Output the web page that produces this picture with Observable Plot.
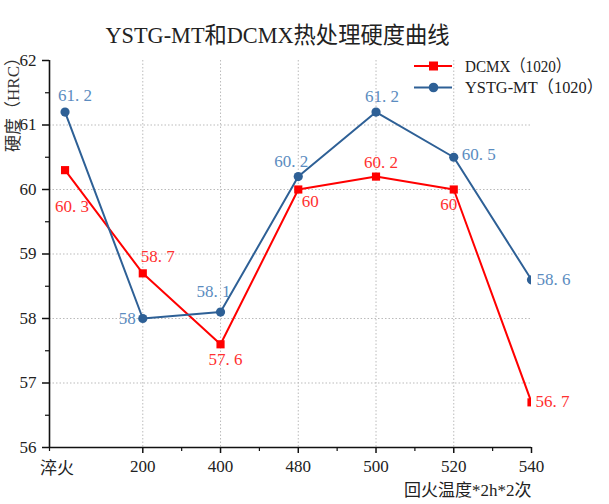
<!DOCTYPE html>
<html><head><meta charset="utf-8">
<script src="https://cdn.jsdelivr.net/npm/d3@7"></script>
<script src="https://cdn.jsdelivr.net/npm/@observablehq/plot@0.6"></script>
<style>
body{margin:0;background:#fff}
#wrap{position:relative;width:609px;height:504px}
#over{position:absolute;left:0;top:0;pointer-events:none}
</style></head>
<body><div id="wrap"></div>
<script>
const categories = ["淬火", "200", "400", "480", "500", "520", "540"];
const dcmx = [60.3, 58.7, 57.6, 60, 60.2, 60, 56.7];
const ystg = [61.2, 58, 58.1, 60.2, 61.2, 60.5, 58.6];
const seriesNames = ["DCMX（1020）", "YSTG-MT（1020）"];
const yTicks = [56, 57, 58, 59, 60, 61, 62];
const yMinor = [56.5, 57.5, 58.5, 59.5, 60.5, 61.5];
const xMinor = [1.5, 2.5, 3.5, 4.5, 5.5];
const titleText = "YSTG-MT和DCMX热处理硬度曲线";
const yLabel = "硬度（HRC）";
const xLabel = "回火温度*2h*2次";

// label placement (dx, dy, anchor) per point
const dcmxLabelPos = [[7,36,"middle"],[15,-17,"middle"],[5,15,"middle"],[12,12,"middle"],[5,-14,"middle"],[-5,15,"middle"],[4,-1,"start"]];
const ystgLabelPos = [[10,-17,"middle"],[-7,0,"end"],[-7,-21,"middle"],[-7,-15,"middle"],[6,-16,"middle"],[8,-3,"start"],[5,0,"start"]];

const RED = "#ff0000", RED_L = "#ff3030", BLUE = "#2e6096", BLUE_L = "#5b8cc0";
const FONT = "'Liberation Serif','Noto Sans CJK SC',serif";

const rows = categories.map((c, i) => ({i, cat: c, dcmx: dcmx[i], ystg: ystg[i]}));
const xIdx = categories.map((c, i) => i);

const labelMarks = [];
rows.forEach((r, k) => {
  const [dx1, dy1, a1] = dcmxLabelPos[k];
  labelMarks.push(Plot.text([r], {x: "i", y: "dcmx", text: d => String(d.dcmx).replace(".", ". "), dx: dx1, dy: dy1, textAnchor: a1, fill: RED_L, fontSize: 17}));
  const [dx2, dy2, a2] = ystgLabelPos[k];
  labelMarks.push(Plot.text([r], {x: "i", y: "ystg", text: d => String(d.ystg).replace(".", ". "), dx: dx2, dy: dy2, textAnchor: a2, fill: BLUE_L, fontSize: 17}));
});

const chart = Plot.plot({
  width: 609, height: 504,
  marginLeft: 49, marginRight: 78, marginTop: 60, marginBottom: 57,
  style: {fontFamily: FONT, background: "#fff", color: "#222"},
  x: {type: "linear", domain: [-0.2, 6]},
  y: {domain: [56, 62]},
  marks: [
    Plot.ruleX([1, 2, 3, 4, 5], {stroke: "#bbb", strokeDasharray: "1.5,2", strokeWidth: 1}),
    Plot.ruleY([57, 58, 59, 60, 61], {stroke: "#bbb", strokeDasharray: "1.5,2", strokeWidth: 1}),
    Plot.axisY({ticks: yTicks, tickSize: 7, tickPadding: 6, fontSize: 17, tickFormat: d => d, label: null, stroke: "#111", strokeWidth: 1.5}),
    Plot.axisY({ticks: yMinor, tickSize: 4, tickFormat: null, text: null, label: null, stroke: "#111", strokeWidth: 1.2}),
    Plot.axisX({ticks: xIdx.slice(1), tickSize: 6, tickPadding: 6, fontSize: 17, tickFormat: d => categories[d], label: null, stroke: "#111", strokeWidth: 1.5}),
    Plot.axisX({ticks: [-0.2], tickSize: 4, tickFormat: null, text: null, label: null, stroke: "#111", strokeWidth: 1.2}),
    Plot.axisX({ticks: xMinor, tickSize: 4, tickFormat: null, text: null, label: null, stroke: "#111", strokeWidth: 1.2}),
    Plot.text([categories[0]], {x: 0, y: 56, text: d => d, dx: -8, dy: 21, fontSize: 17, fill: "#222"}),
    Plot.ruleX([-0.2], {stroke: "#111", strokeWidth: 1.6}),
    Plot.ruleY([56], {stroke: "#111", strokeWidth: 1.6}),
    Plot.line(rows, {x: "i", y: "dcmx", stroke: RED, strokeWidth: 2, clip: "frame"}),
    Plot.line(rows, {x: "i", y: "ystg", stroke: BLUE, strokeWidth: 2, clip: "frame"}),
    Plot.dot(rows, {x: "i", y: "dcmx", symbol: "square", r: 4.6, fill: RED, stroke: "none", clip: "frame"}),
    Plot.dot(rows, {x: "i", y: "ystg", symbol: "circle", r: 4.6, fill: BLUE, stroke: "none", clip: "frame"}),
    ...labelMarks,
    Plot.text([yLabel], {frameAnchor: "top-left", text: d => d, rotate: -90, dx: -36, dy: 40, textAnchor: "middle", lineAnchor: "middle", fontSize: 17, fill: "#333"}),
    Plot.text([xLabel], {frameAnchor: "bottom-right", text: d => d, dx: 0, dy: 43, textAnchor: "end", lineAnchor: "middle", fontSize: 17, fill: "#222"}),
    Plot.text([titleText], {frameAnchor: "top", text: d => d, dx: -13, dy: -25, textAnchor: "middle", lineAnchor: "middle", fontSize: 23, fill: "#222"})
  ]
});
document.getElementById("wrap").appendChild(chart);

// legend overlay
const over = d3.select("#wrap").append("svg").attr("id", "over").attr("width", 609).attr("height", 504);
const legendItems = [
  {name: seriesNames[0], color: RED, sym: "square"},
  {name: seriesNames[1], color: BLUE, sym: "circle"}
];
legendItems.forEach((it, k) => {
  const y = 66 + k * 21.5;
  const g = over.append("g");
  g.append("line").attr("x1", 414).attr("x2", 452).attr("y1", y).attr("y2", y).attr("stroke", it.color).attr("stroke-width", 2);
  if (it.sym === "square") g.append("rect").attr("x", 429).attr("y", y - 4.5).attr("width", 9).attr("height", 9).attr("fill", it.color);
  else g.append("circle").attr("cx", 433.5).attr("cy", y).attr("r", 4.8).attr("fill", it.color);
  g.append("text").attr("x", 465).attr("y", y).attr("dy", "0.35em").attr("font-family", FONT).attr("font-size", 16.5).attr("fill", "#222").text(it.name);
});

function fit(textEl, w) {
  textEl.setAttribute("textLength", w);
  textEl.setAttribute("lengthAdjust", "spacingAndGlyphs");
}
chart.querySelectorAll("text").forEach(t => { if (t.textContent === titleText) fit(t, 344); });
const lt = over.selectAll("text").nodes();
fit(lt[0], 106); fit(lt[1], 138);
</script></body></html>
